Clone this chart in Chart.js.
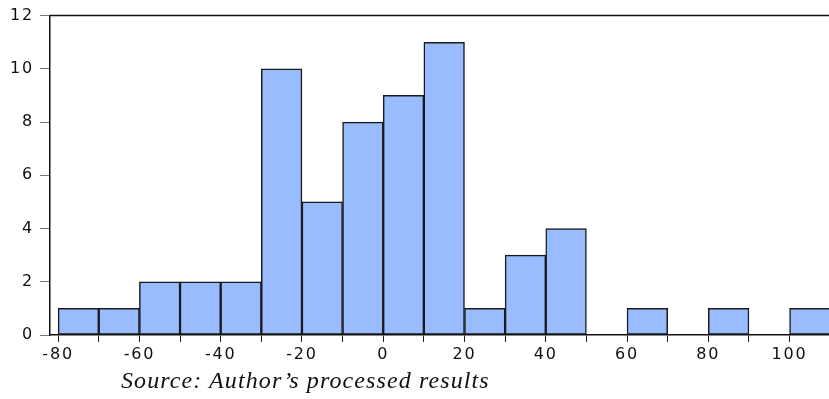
<!DOCTYPE html>
<html>
<head>
<meta charset="utf-8">
<script src="https://cdn.jsdelivr.net/npm/chart.js@4.4.1/dist/chart.umd.min.js"></script>
<style>
  html, body { margin: 0; padding: 0; background: #fff; }
  #wrap { position: relative; width: 829px; height: 399px; overflow: hidden; }
  #note {
    position: absolute; left: 121px; top: 367px;
    font-family: "Liberation Serif", serif; font-style: italic;
    font-size: 24px; letter-spacing: 1.1px; color: #111; white-space: nowrap;
  }
</style>
</head>
<body>
<div id="wrap">
  <canvas id="hist" width="829" height="399"></canvas>
  <div id="note">Source: Author’s processed results</div>
</div>
<script>
  /* Histogram data: bin centres (width 10) and counts */
  const BIN_CENTERS = [-75, -65, -55, -45, -35, -25, -15, -5, 5, 15, 25, 35, 45, 55, 65, 75, 85, 95, 105];
  const COUNTS = [1, 1, 2, 2, 2, 10, 5, 8, 9, 11, 1, 3, 4, 0, 1, 0, 1, 0, 1];
  const X_TICKS = [-80, -70, -60, -50, -40, -30, -20, -10, 0, 10, 20, 30, 40, 50, 60, 70, 80, 90, 100];
  const Y_TICKS = [0, 2, 4, 6, 8, 10, 12];

  const tickFont = { family: 'DejaVu Sans, Verdana, sans-serif', size: 16 };

  /* wider tick lettering, like the original */
  const spacing = {
    id: 'spacing',
    beforeDraw: function (chart) { chart.ctx.letterSpacing = '1.8px'; }
  };

  /* frame line across the top of the plot */
  const topLine = {
    id: 'topLine',
    afterDraw: function (chart) {
      const a = chart.chartArea;
      const ctx = chart.ctx;
      ctx.save();
      ctx.strokeStyle = '#111';
      ctx.lineWidth = 1.5;
      ctx.beginPath();
      ctx.moveTo(a.left, a.top);
      ctx.lineTo(a.right, a.top);
      ctx.stroke();
      ctx.restore();
    }
  };

  new Chart(document.getElementById('hist'), {
    type: 'bar',
    data: {
      datasets: [{
        data: BIN_CENTERS.map(function (x, i) { return { x: x, y: COUNTS[i] }; }),
        backgroundColor: 'rgb(153,188,255)',
        borderColor: '#1a1a1a',
        borderWidth: 1.5,
        borderSkipped: false,
        barPercentage: 1,
        categoryPercentage: 1
      }]
    },
    options: {
      responsive: false,
      animation: false,
      layout: { padding: { top: 14, right: 0, left: 0, bottom: 0 } },
      plugins: { legend: { display: false }, tooltip: { enabled: false } },
      scales: {
        x: {
          type: 'linear',
          offset: false,
          min: -82,
          max: 109.7,
          afterBuildTicks: function (scale) {
            scale.ticks = X_TICKS.map(function (v) { return { value: v }; });
          },
          afterFit: function (scale) { scale.height = 64; },
          ticks: {
            autoSkip: false,
            maxRotation: 0,
            color: '#111',
            font: tickFont,
            padding: 3,
            callback: function (v) { return v % 20 === 0 ? String(v) : ''; }
          },
          grid: { offset: false, drawOnChartArea: false, drawTicks: true, tickLength: 7, tickColor: '#222' },
          border: { display: true, color: '#111', width: 1.5 }
        },
        y: {
          min: 0,
          max: 12,
          afterBuildTicks: function (scale) {
            scale.ticks = Y_TICKS.map(function (v) { return { value: v }; });
          },
          afterFit: function (scale) { scale.width = 50; },
          ticks: { color: '#111', font: tickFont, padding: 6 },
          grid: { drawOnChartArea: false, drawTicks: true, tickLength: 10, tickColor: '#777' },
          border: { display: true, color: '#111', width: 1.5 }
        }
      }
    },
    plugins: [spacing, topLine]
  });
</script>
</body>
</html>
